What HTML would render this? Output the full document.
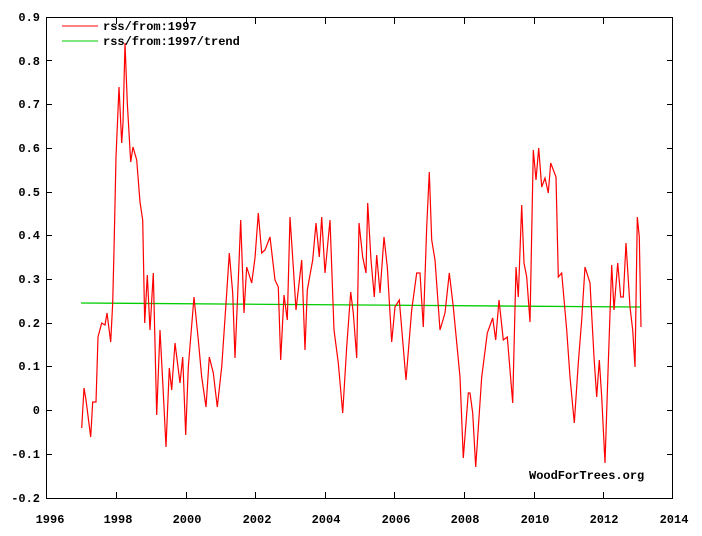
<!DOCTYPE html>
<html><head><meta charset="utf-8"><style>
body{margin:0;background:#fff;width:702px;height:531px;overflow:hidden}
text{font-family:"Liberation Mono","DejaVu Sans Mono",monospace;font-weight:bold;font-size:12px;fill:#000}
</style></head><body>
<svg width="702" height="531" viewBox="0 0 702 531" xmlns="http://www.w3.org/2000/svg">
<rect x="0" y="0" width="702" height="531" fill="#fff"/>
<g stroke="#000" stroke-width="1" fill="none">
<rect x="46.5" y="17.5" width="626" height="481"/>
<path d="M46 60.5h6M46 104.5h6M46 148.5h6M46 192.5h6M46 235.5h6M46 279.5h6M46 323.5h6M46 366.5h6M46 410.5h6M46 454.5h6
M673 60.5h-6M673 104.5h-6M673 148.5h-6M673 192.5h-6M673 235.5h-6M673 279.5h-6M673 323.5h-6M673 366.5h-6M673 410.5h-6M673 454.5h-6
M116.5 498v-6M186.5 498v-6M255.5 498v-6M325.5 498v-6M394.5 498v-6M464.5 498v-6M534.5 498v-6M603.5 498v-6
M116.5 18v6M186.5 18v6M255.5 18v6M325.5 18v6M394.5 18v6M464.5 18v6M534.5 18v6M603.5 18v6"/>
</g>
<g text-anchor="end">
<text x="40" y="21">0.9</text><text x="40" y="65">0.8</text><text x="40" y="108">0.7</text><text x="40" y="152">0.6</text>
<text x="40" y="196">0.5</text><text x="40" y="239">0.4</text><text x="40" y="283">0.3</text><text x="40" y="327">0.2</text>
<text x="40" y="370">0.1</text><text x="40" y="414">0</text><text x="40" y="458">-0.1</text><text x="40" y="502">-0.2</text>
</g>
<g text-anchor="middle">
<text x="50" y="523">1996</text><text x="118" y="523">1998</text><text x="187" y="523">2000</text><text x="257" y="523">2002</text>
<text x="326" y="523">2004</text><text x="396" y="523">2006</text><text x="465" y="523">2008</text><text x="535" y="523">2010</text>
<text x="604" y="523">2012</text><text x="674" y="523">2014</text>
</g>
<text x="529" y="479">WoodForTrees.org</text>
<line x1="62" y1="26" x2="98" y2="26" stroke="#f00"/>
<text x="103" y="30">rss/from:1997</text>
<line x1="62" y1="41" x2="98" y2="41" stroke="#0c0"/>
<text x="103" y="45">rss/from:1997/trend</text>
<polyline fill="none" stroke="#0c0" stroke-width="1.3" points="81,303 641,307"/>
<polyline fill="none" stroke="#f00" stroke-width="1.2" points="81.7,428 84,388 86,400 90.7,437 92.7,402 96,402 98,337 101.7,323 105,325 107,313 110.7,342 112.7,303 114,250 116,157 119,87 121.7,143 123,123 125,43 127.3,103 130.7,162 133,147 136.7,160 140,202 142.7,220 144.7,323 147.3,275 150,330 153.3,273 156.7,415 160,330 163.3,393 166,447 169.3,368 171.7,390 175,343 180,383 182.7,357 185.7,435 188.3,367 194,297 198.3,340 201.7,377 206,407 209.3,357 213.3,373 217.3,407 221.7,367 226.7,293 229.3,253 232.7,293 235,358 238.3,280 240.7,220 244,313 246.7,267 251.7,283 255,258 258.3,213 261.7,253 265,250 270,237 275,280 278.3,287 280.7,360 284,295 287.3,320 290,217 293.3,267 296,310 301.7,260 305,350 307.3,290 312.7,260 316,223 319.3,257 321.7,217 325,273 330,220 334,330 338.3,363 342.7,413 346.7,347 350.7,292 353.3,313 356.7,358 359,223 362.7,257 366,273 367.7,203 371,260 374.3,297 376.7,255 380,293 384,237 387.3,267 391.7,342 395,307 399.3,300 406,380 411.7,310 416.7,273 420,273 423.3,327 426.7,227 429.3,172 431.7,240 435,260 440,330 445,313 449.3,273 453.3,307 460,377 463.3,458 468.3,393 470,393 472.7,413 475.7,467 481.7,377 487.3,333 492.7,318 495.7,340 499,300 503.3,340 507.3,337 512.7,403 516,267 518.3,297 521.7,205 524,263 526.7,277 530,322 533.3,150 536,180 538.7,148 541.7,187 545,178 548.3,193 550.7,163 556,177 558.3,277 561.7,273 566.7,330 570,377 574.3,423 578.3,363 581.7,320 585,267 590,283 594,357 596.7,397 599.3,360 601.7,397 605,463 608.3,363 611.7,265 614,310 617.7,263 620.7,297 623.3,297 626,243 630,307 632.7,330 635,367 637.3,217 639.3,237 641,327"/>
</svg>
</body></html>
